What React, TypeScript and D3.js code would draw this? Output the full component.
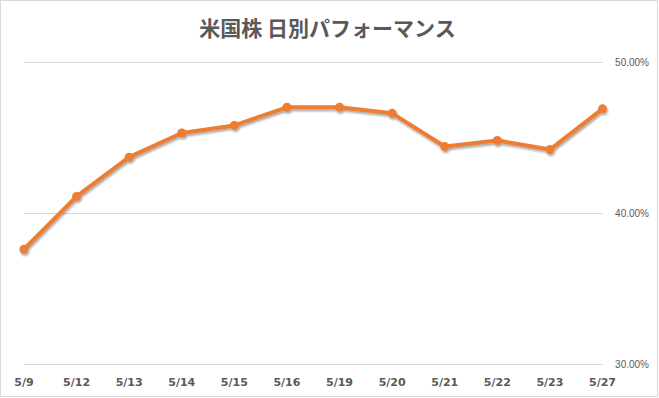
import React, { useEffect, useRef } from "react";
import * as d3 from "d3";

const categories = ["5/9", "5/12", "5/13", "5/14", "5/15", "5/16", "5/19", "5/20", "5/21", "5/22", "5/23", "5/27"];
const values = [37.6, 41.1, 43.7, 45.3, 45.8, 47.0, 47.0, 46.6, 44.4, 44.8, 44.2, 46.9];
const yTicks = [30, 40, 50];
const title = "米国株 日別パフォーマンス";

const W = 659;
const H = 398;

export default function App() {
  const ref = useRef<SVGSVGElement>(null);
  useEffect(() => {
    const svg = d3.select(ref.current);
    svg.selectAll("*").remove();

    const x = d3.scalePoint<string>().domain(categories).range([24, 602.5]);
    const y = d3.scaleLinear().domain([30, 50]).range([364, 62]);

    const defs = svg.append("defs");
    const f = defs.append("filter").attr("id", "sh").attr("x", "-10%").attr("y", "-10%").attr("width", "120%").attr("height", "130%");
    f.append("feDropShadow").attr("dx", 1).attr("dy", 2).attr("stdDeviation", 1.2).attr("flood-color", "#000").attr("flood-opacity", 0.35);

    svg.append("rect").attr("x", 0.5).attr("y", 0.5).attr("width", W - 2).attr("height", H - 2)
      .attr("fill", "#fff").attr("stroke", "#D9D9D9");

    svg.append("text").attr("x", W / 2 - 2).attr("y", 36).attr("text-anchor", "middle")
      .attr("font-family", "'Noto Sans CJK JP', sans-serif").attr("font-size", 21).attr("font-weight", "bold")
      .attr("fill", "#595959").text(title);

    svg.append("g").selectAll("line").data(yTicks).join("line")
      .attr("x1", 24).attr("x2", 603).attr("y1", (d) => Math.round(y(d)) + 0.5).attr("y2", (d) => Math.round(y(d)) + 0.5)
      .attr("stroke", "#D9D9D9").attr("stroke-width", 1);

    svg.append("g").selectAll("text").data(yTicks).join("text")
      .attr("x", 649).attr("y", (d) => y(d) + 4).attr("text-anchor", "end")
      .attr("font-family", "'Liberation Sans', Arial, sans-serif").attr("font-size", 10)
      .attr("fill", "#595959").text((d) => d.toFixed(2) + "%");

    svg.append("g").selectAll("text").data(categories).join("text")
      .attr("x", (d) => x(d)!).attr("y", 386).attr("text-anchor", "middle")
      .attr("font-family", "'DejaVu Sans', sans-serif").attr("font-size", 11).attr("font-weight", "bold")
      .attr("fill", "#595959").text((d) => d);

    const g = svg.append("g").attr("filter", "url(#sh)");
    const line = d3.line<number>().x((_, i) => x(categories[i])!).y((d) => y(d));
    g.append("path").datum(values).attr("d", line).attr("fill", "none")
      .attr("stroke", "#ED7D31").attr("stroke-width", 4).attr("stroke-linejoin", "round").attr("stroke-linecap", "round");
    g.selectAll("circle").data(values).join("circle")
      .attr("cx", (_, i) => x(categories[i])!).attr("cy", (d) => y(d)).attr("r", 4.5).attr("fill", "#ED7D31");
  }, []);

  return (
    <div style={{ position: "fixed", left: 0, top: 0 }}>
      <svg ref={ref} width={W} height={H} style={{ display: "block" }} />
    </div>
  );
}
